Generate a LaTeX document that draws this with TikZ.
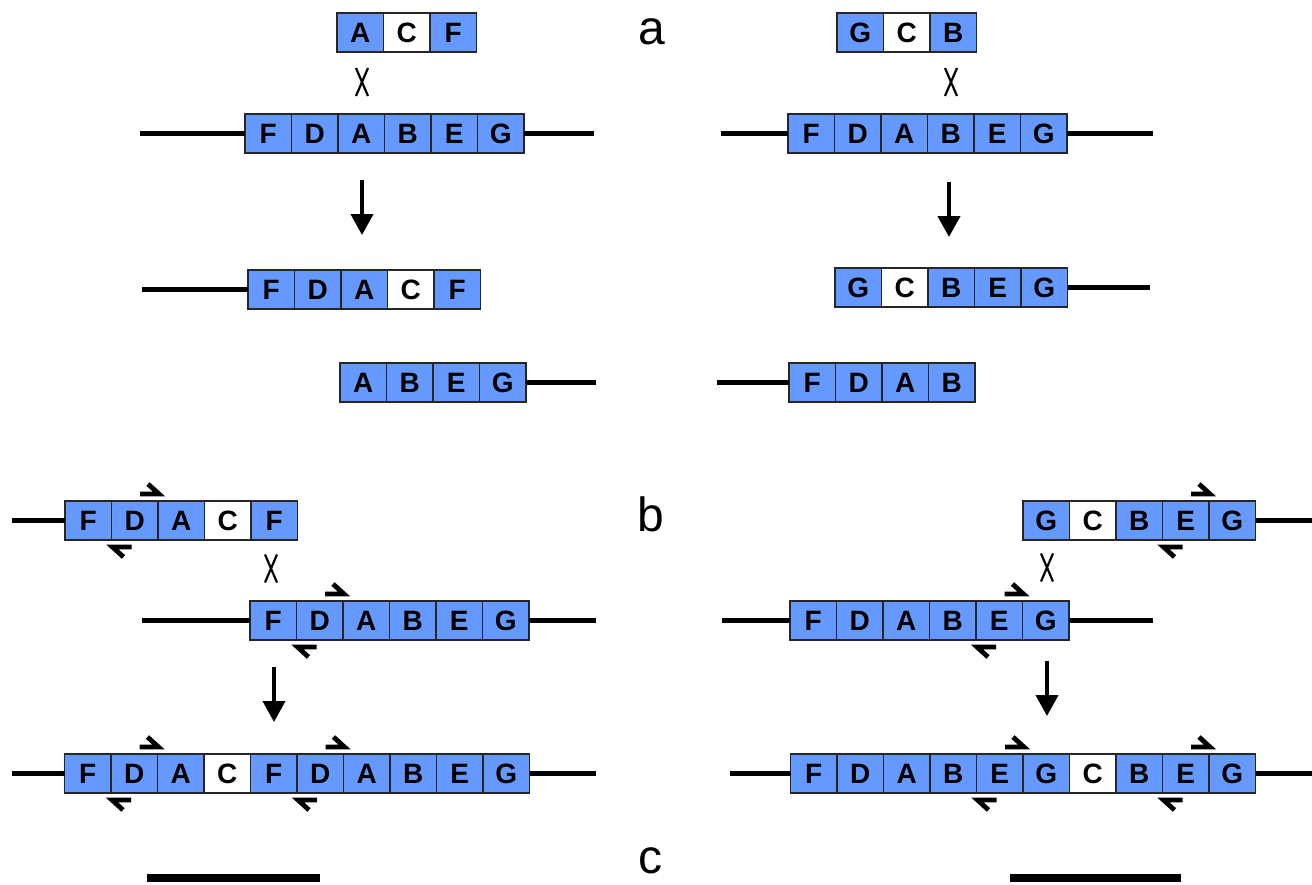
\documentclass[tikz,border=0pt]{standalone}
\usepackage{fontspec}
\setmainfont{Liberation Sans}
\usetikzlibrary{arrows.meta,calc}
\definecolor{segblue}{RGB}{102,153,255}
\tikzset{
  cellbox/.style={draw=black!85, line width=0.6pt, minimum width=23.25pt, minimum height=19.5pt,
    inner sep=0pt, outer sep=0pt, anchor=north west, font=\fontsize{14}{14}\selectfont\bfseries},
  dnaline/.style={line width=2.5pt},
  bigarrow/.style={line width=2pt, -{Triangle[length=10.5pt,width=11pt]}},
  primer/.style={line width=2.4pt},
  chi/.style={line width=1.1pt},
  scalebar/.style={line width=4pt},
  panel/.style={font=\fontsize{24}{24}\selectfont, anchor=base, inner sep=0pt},
}
\newcommand{\segrow}[4]{%
  \foreach \L/\F [count=\i] in {#4} {
    \node[cellbox, fill=\F] (#1-\i) at ({#2+(\i-1)*46.5}, #3) {\L};
  }}
\newcommand{\primtop}[1]{\draw[primer] ($(#1.north east)+(-18,-7)$) -- ++(19,0) -- ++(-11,-10);}
\newcommand{\primbot}[1]{\draw[primer] ($(#1.south west)+(12,17)$) -- ++(-11,-10) -- ++(19,0);}
\newcommand{\chisym}[2]{\draw[chi] (#1-6,#2-14) -- (#1+6,#2+14) (#1+6,#2-14) -- (#1-6,#2+14);}
\begin{document}
\begin{tikzpicture}[x=0.5pt,y=-0.5pt]
\useasboundingbox (0,0) rectangle (1312,884);

% panel labels
\node[panel] (la) at (652,44) {a};
\node[panel] (lb) at (651,531) {b};
\node[panel] (lc) at (650,873) {c};

% ===== a, left =====
\segrow{aLz}{337}{13}{A/segblue,C/white,F/segblue}
\chisym{362}{82}
\segrow{aLa}{245}{114}{F/segblue,D/segblue,A/segblue,B/segblue,E/segblue,G/segblue}
\coordinate (aLal) at (140,133.5); \coordinate (aLar) at (594,133.5);
\draw[dnaline] (aLal) -- (aLa-1.west);
\draw[dnaline] (aLa-6.east) -- (aLar);
\coordinate (aLs) at (362,180); \coordinate (aLe) at (362,235);
\draw[bigarrow] (aLs) -- (aLe);
\segrow{aLb}{248}{270}{F/segblue,D/segblue,A/segblue,C/white,F/segblue}
\coordinate (aLbl) at (142,289.5);
\draw[dnaline] (aLbl) -- (aLb-1.west);
\segrow{aLc}{340}{363}{A/segblue,B/segblue,E/segblue,G/segblue}
\coordinate (aLcr) at (596,382.5);
\draw[dnaline] (aLc-4.east) -- (aLcr);

% ===== a, right =====
\segrow{aRz}{837}{13}{G/segblue,C/white,B/segblue}
\chisym{951}{82}
\segrow{aRa}{788}{114}{F/segblue,D/segblue,A/segblue,B/segblue,E/segblue,G/segblue}
\coordinate (aRal) at (721,133.5); \coordinate (aRar) at (1153,133.5);
\draw[dnaline] (aRal) -- (aRa-1.west);
\draw[dnaline] (aRa-6.east) -- (aRar);
\coordinate (aRs) at (949,182); \coordinate (aRe) at (949,237);
\draw[bigarrow] (aRs) -- (aRe);
\segrow{aRb}{835}{268}{G/segblue,C/white,B/segblue,E/segblue,G/segblue}
\coordinate (aRbr) at (1150,287.5);
\draw[dnaline] (aRb-5.east) -- (aRbr);
\segrow{aRc}{789}{363}{F/segblue,D/segblue,A/segblue,B/segblue}
\coordinate (aRcl) at (717,382.5);
\draw[dnaline] (aRcl) -- (aRc-1.west);

% ===== b, left =====
\segrow{bLa}{65}{501}{F/segblue,D/segblue,A/segblue,C/white,F/segblue}
\coordinate (bLal) at (12,520.5);
\draw[dnaline] (bLal) -- (bLa-1.west);
\primtop{bLa-2}\primbot{bLa-2}
\chisym{271}{568.5}
\segrow{bLb}{250}{601}{F/segblue,D/segblue,A/segblue,B/segblue,E/segblue,G/segblue}
\coordinate (bLbl) at (142,620.5); \coordinate (bLbr) at (596,620.5);
\draw[dnaline] (bLbl) -- (bLb-1.west);
\draw[dnaline] (bLb-6.east) -- (bLbr);
\primtop{bLb-2}\primbot{bLb-2}
\coordinate (bLs) at (274,667); \coordinate (bLe) at (274,722);
\draw[bigarrow] (bLs) -- (bLe);
\segrow{bLc}{64.5}{754}{F/segblue,D/segblue,A/segblue,C/white,F/segblue,D/segblue,A/segblue,B/segblue,E/segblue,G/segblue}
\coordinate (bLcl) at (12,773.5); \coordinate (bLcr) at (596,773.5);
\draw[dnaline] (bLcl) -- (bLc-1.west);
\draw[dnaline] (bLc-10.east) -- (bLcr);
\primtop{bLc-2}\primbot{bLc-2}
\primtop{bLc-6}\primbot{bLc-6}
\coordinate (sbL1) at (147,878); \coordinate (sbL2) at (320,878);
\draw[scalebar] (sbL1) -- (sbL2);

% ===== b, right =====
\segrow{bRa}{1023}{501}{G/segblue,C/white,B/segblue,E/segblue,G/segblue}
\coordinate (bRar) at (1312,520.5);
\draw[dnaline] (bRa-5.east) -- (bRar);
\primtop{bRa-4}\primbot{bRa-4}
\chisym{1047}{567.5}
\segrow{bRb}{790}{601}{F/segblue,D/segblue,A/segblue,B/segblue,E/segblue,G/segblue}
\coordinate (bRbl) at (722,620.5); \coordinate (bRbr) at (1153,620.5);
\draw[dnaline] (bRbl) -- (bRb-1.west);
\draw[dnaline] (bRb-6.east) -- (bRbr);
\primtop{bRb-5}\primbot{bRb-5}
\coordinate (bRs) at (1047,661); \coordinate (bRe) at (1047,716);
\draw[bigarrow] (bRs) -- (bRe);
\segrow{bRc}{790.5}{754}{F/segblue,D/segblue,A/segblue,B/segblue,E/segblue,G/segblue,C/white,B/segblue,E/segblue,G/segblue}
\coordinate (bRcl) at (730,773.5); \coordinate (bRcr) at (1312,773.5);
\draw[dnaline] (bRcl) -- (bRc-1.west);
\draw[dnaline] (bRc-10.east) -- (bRcr);
\primtop{bRc-5}\primbot{bRc-5}
\primtop{bRc-9}\primbot{bRc-9}
\coordinate (sbR1) at (1010,878); \coordinate (sbR2) at (1181,878);
\draw[scalebar] (sbR1) -- (sbR2);
\end{tikzpicture}
\end{document}
